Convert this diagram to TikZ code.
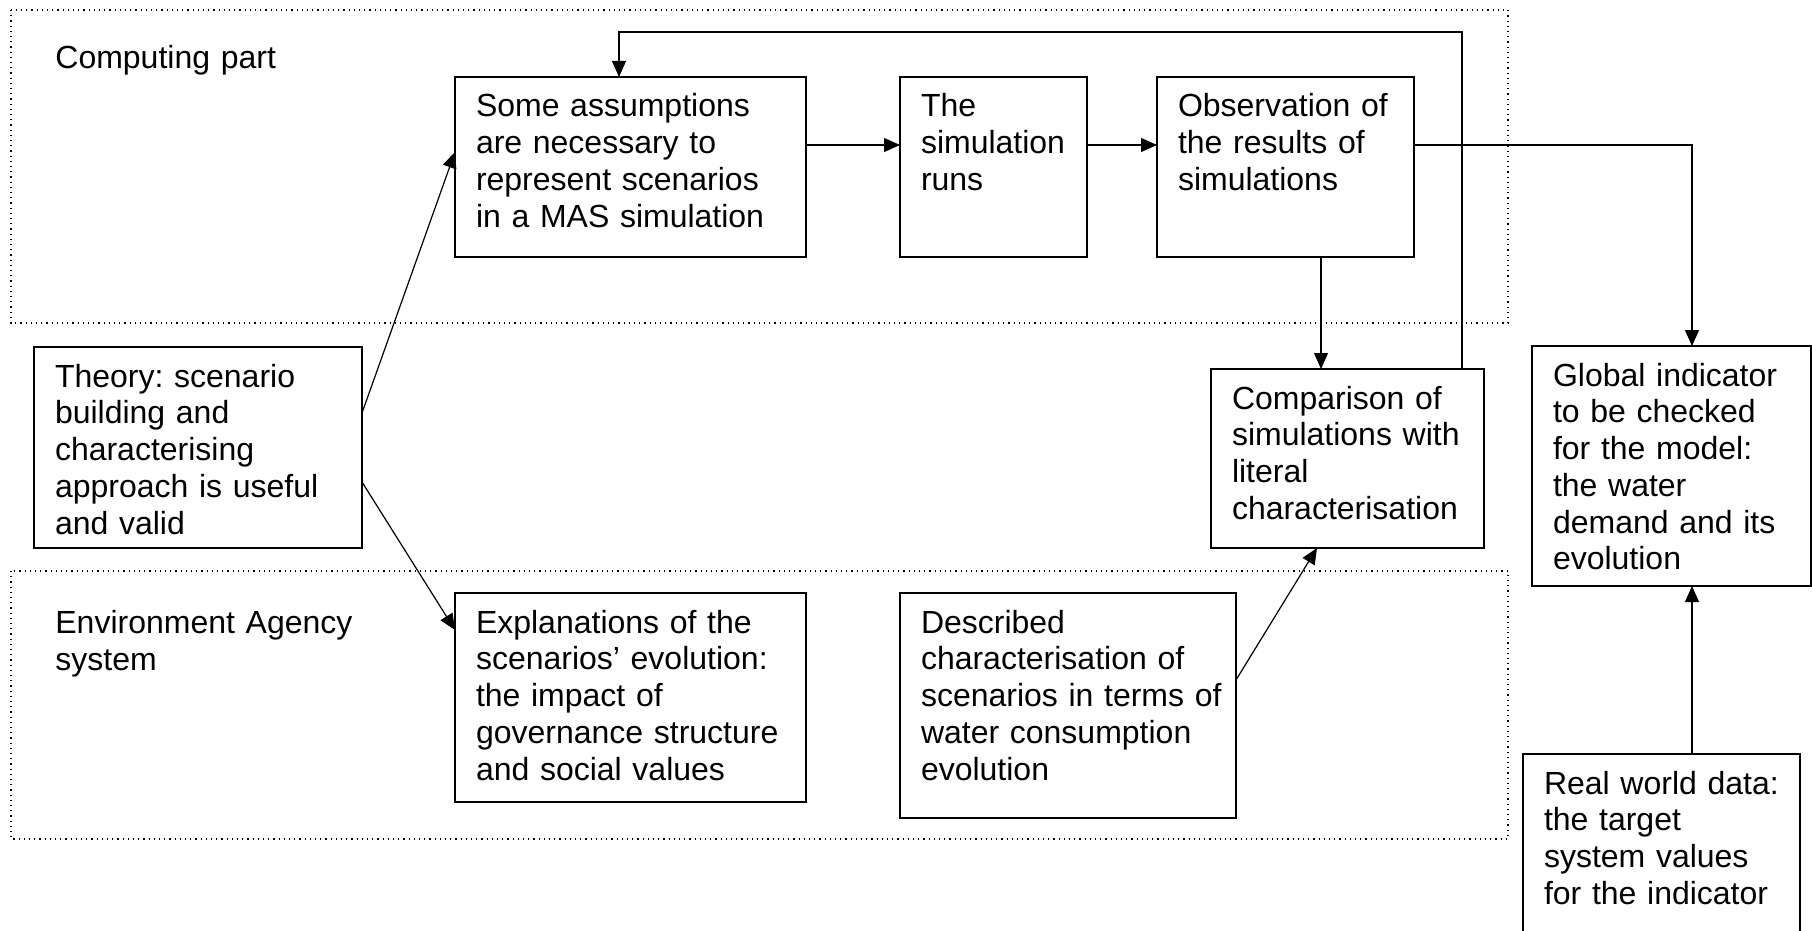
\documentclass[tikz,border=0pt]{standalone}
\usepackage{fontspec}
\setmainfont{Liberation Sans}
\usetikzlibrary{arrows.meta}
\frenchspacing
\tikzset{
    stage/.style = {draw, line width=0.6pt, anchor=north west, align=left,
        inner xsep=10.5pt, inner ysep=0pt, outer sep=0pt, text height=20pt},
    flow/.style = {draw, line width=0.6pt, -{Triangle[length=8pt, width=7pt]}},
    region/.style = {draw, dotted, line width=0.6pt},
    region label/.style = {anchor=north west, align=left, inner sep=0pt, text height=20pt},
}

\begin{document}
\begin{tikzpicture}[x=0.5pt, y=-0.5pt, font=\fontsize{16pt}{18.4pt}\selectfont]
    \useasboundingbox (0, 0) rectangle (1812, 931);
    \clip (0, 0) rectangle (1812, 931);
    % the two parts
    \draw[region] (11, 10) rectangle (1508, 323);
    \draw[region] (11, 571) rectangle (1508, 839);
    \node[region label, text width=150pt] (computing) at (55, 28) {Computing part};
    \node[region label, text width=160pt] (agency) at (55, 593) {Environment Agency\\system};

    \node[stage, text width=154.5pt, text depth=70pt] (assume) at (455, 77)
        {Some assumptions\\are necessary to\\represent scenarios\\in a MAS simulation};
    \node[stage, text width=72.5pt, text depth=70pt] (runs) at (900, 77)
        {The\\simulation\\runs};
    \node[stage, text width=107.5pt, text depth=70pt] (observe) at (1157, 77)
        {Observation of\\the results of\\simulations};
    \node[stage, text width=143pt, text depth=80.5pt] (theory) at (34, 347)
        {Theory: scenario\\building and\\characterising\\approach is useful\\and valid};
    \node[stage, text width=115.5pt, text depth=69.5pt] (compare) at (1211, 369)
        {Comparison of\\simulations with\\literal\\characterisation};
    \node[stage, text width=118.5pt, text depth=100pt] (global) at (1532, 346)
        {Global indicator\\to be checked\\for the model:\\the water\\demand and its\\evolution};
    \node[stage, text width=154.5pt, text depth=84.5pt] (explain) at (455, 593)
        {Explanations of the\\scenarios’ evolution:\\the impact of\\governance structure\\and social values};
    \node[stage, text width=147pt, text depth=92.5pt] (describe) at (900, 593)
        {Described\\characterisation of\\\mbox{scenarios in terms of}\\water consumption\\evolution};
    \node[stage, text width=117.5pt, text depth=90pt] (realdata) at (1523, 754)
        {Real world data:\\the target\\system values\\for the indicator};

    % connectors
    \draw[flow] ([yshift=17.25pt]theory.east) -- ([yshift=7.5pt]assume.west);
    \draw[flow] ([yshift=-17.25pt]theory.east) -- ([yshift=33.75pt]explain.west);
    \draw[flow] ([yshift=11pt]assume.east) -- ([yshift=11pt]runs.west);
    \draw[flow] ([yshift=11pt]runs.east) -- ([yshift=11pt]observe.west);
    \draw[flow] ([yshift=11pt]observe.east) -| ([xshift=10.25pt]global.north);
    \draw[flow] ([xshift=17.75pt]observe.south) -- ([xshift=17.75pt]observe.south |- compare.north);
    \coordinate (feedback) at (1462, 32);
    \draw[flow] (compare.north -| feedback) -- (feedback) -| ([xshift=-5.75pt]assume.north);
    \draw[flow] ([yshift=12.75pt]describe.east) -- ([xshift=-15.25pt]compare.south);
    \draw[flow] ([xshift=15.25pt]realdata.north) -- ([xshift=15.25pt]realdata.north |- global.south);
\end{tikzpicture}
\end{document}
